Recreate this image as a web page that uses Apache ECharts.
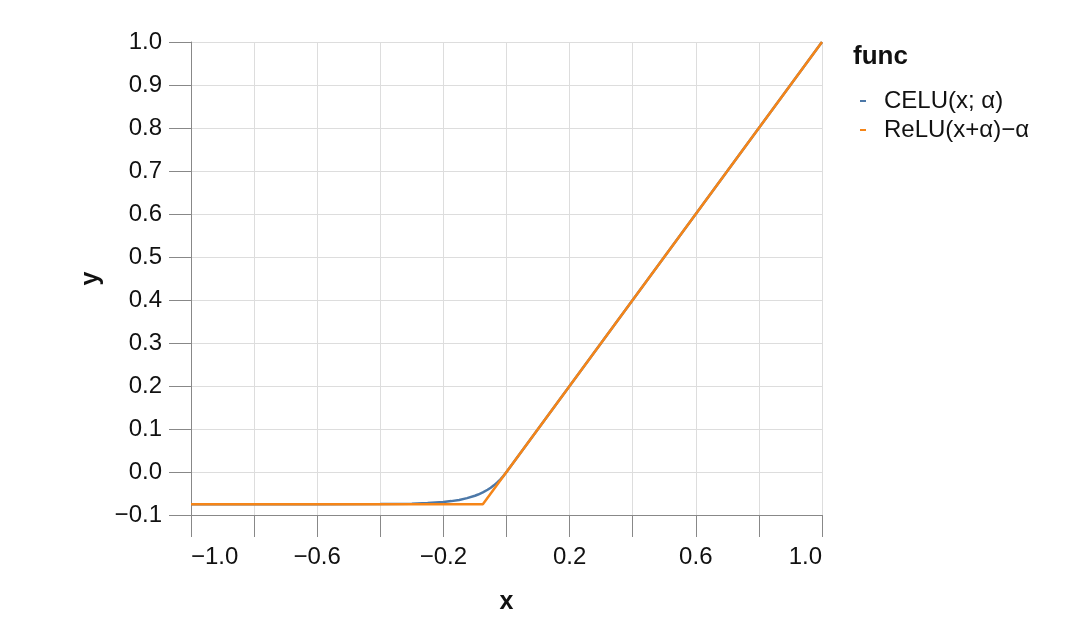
<!DOCTYPE html>
<html><head><meta charset="utf-8">
<script src="https://cdn.jsdelivr.net/npm/echarts@6/dist/echarts.min.js"></script>
<style>html,body{margin:0;padding:0;background:#fff}#c{width:1080px;height:620px}</style>
</head><body><div id="c"></div>
<script>
const seriesNames = ['CELU(x; α)', 'ReLU(x+α)−α'];
const celuX = [-1.0, -0.8, -0.6, -0.4, -0.3, -0.25, -0.2, -0.175, -0.15, -0.125, -0.1, -0.09, -0.075, -0.06, -0.05, -0.04, -0.03, -0.02, -0.01, 0, 0.2, 0.4, 0.6, 0.8, 1.0];
const celuY = [-0.075, -0.075, -0.075, -0.0746, -0.0736, -0.0723, -0.0698, -0.0677, -0.0649, -0.0608, -0.0552, -0.0524, -0.0474, -0.0413, -0.0365, -0.031, -0.0247, -0.0176, -0.0094, 0, 0.2, 0.4, 0.6, 0.8, 1.0];
const reluX = [-1.0, -0.075, 1.0];
const reluY = [-0.075, -0.075, 1.0];
const xTicks = [-1.0, -0.6, -0.2, 0.2, 0.6, 1.0];
const colors = ['#4c78a8', '#f58518'];

const FONT = 'Liberation Sans';
const fmt = v => (Math.abs(v) < 1e-9 ? 0 : v).toFixed(1).replace('-', '\u2212');
const pair = (xs, ys) => xs.map((x, i) => [x, ys[i]]);

const chart = echarts.init(document.getElementById('c'), null, {renderer: 'canvas'});
chart.setOption({
  animation: false,
  textStyle: {fontFamily: FONT},
  color: colors,
  title: {text: 'func', left: 848, top: 39, textStyle: {fontFamily: FONT, fontSize: 26, fontWeight: 'bold', color: '#111'}},
  legend: {
    orient: 'vertical', left: 855, top: 84, itemGap: 5,
    icon: 'rect', itemWidth: 6, itemHeight: 2,
    textStyle: {fontFamily: FONT, fontSize: 24, color: '#111', padding: [0, 0, 0, 13]},
    data: seriesNames
  },
  grid: {left: 191, right: 258, top: 42, bottom: 105, containLabel: false},
  xAxis: {
    type: 'value', min: -1, max: 1, interval: 0.2,
    name: 'x', nameLocation: 'middle', nameGap: 75,
    nameTextStyle: {fontFamily: FONT, fontSize: 25, fontWeight: 'bold', color: '#111'},
    axisLine: {onZero: false, lineStyle: {color: '#888', width: 1}},
    axisTick: {length: 22, lineStyle: {color: '#888'}},
    axisLabel: {margin: 30, fontSize: 24, color: '#111', fontFamily: FONT,
      alignMinLabel: 'left', alignMaxLabel: 'right',
      formatter: v => xTicks.some(t => Math.abs(t - v) < 1e-6) ? fmt(v) : ''},
    splitLine: {lineStyle: {color: '#ddd'}}
  },
  yAxis: {
    type: 'value', min: -0.1, max: 1.0, interval: 0.1,
    name: 'y', nameLocation: 'middle', nameGap: 84, nameRotate: 90,
    nameTextStyle: {fontFamily: FONT, fontSize: 25, fontWeight: 'bold', color: '#111'},
    axisLine: {show: true, onZero: false, lineStyle: {color: '#888', width: 1}},
    axisTick: {show: true, length: 22, lineStyle: {color: '#888'}},
    axisLabel: {margin: 29, fontSize: 24, color: '#111', fontFamily: FONT, formatter: fmt},
    splitLine: {lineStyle: {color: '#ddd'}}
  },
  series: [
    {name: seriesNames[0], type: 'line', data: pair(celuX, celuY), showSymbol: false, smooth: false, lineStyle: {width: 2.5, color: colors[0]}, itemStyle: {color: colors[0]}},
    {name: seriesNames[1], type: 'line', data: pair(reluX, reluY), showSymbol: false, lineStyle: {width: 2.5, color: colors[1]}, itemStyle: {color: colors[1]}}
  ]
});
</script></body></html>
